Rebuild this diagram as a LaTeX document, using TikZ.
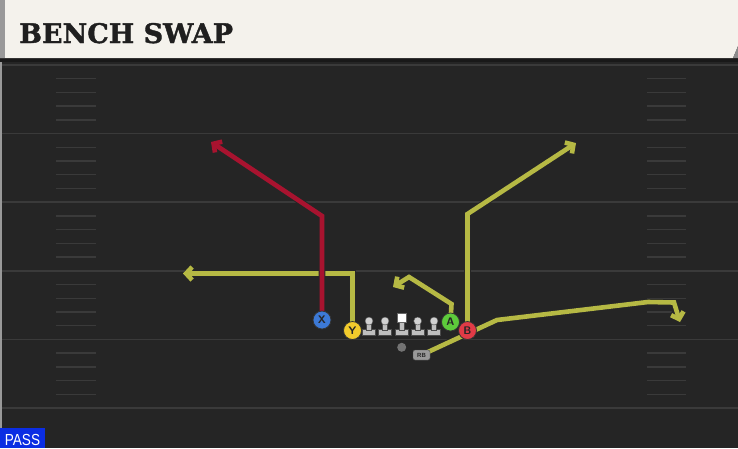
\documentclass[tikz,border=0pt]{standalone}
\usepackage{fontspec}
\usetikzlibrary{arrows.meta}
\newfontfamily\titlefont{DejaVu Serif}[BoldFeatures={FakeBold=1.4}]
\newfontfamily\tagfont{Liberation Sans}
\definecolor{turf}{HTML}{252525}
\definecolor{chalk}{HTML}{3A3A3A}
\definecolor{paper}{HTML}{F4F2EC}
\definecolor{redroute}{HTML}{A8132F}
\definecolor{yelroute}{HTML}{B6B944}
\definecolor{xblue}{HTML}{3C79D6}
\definecolor{yyellow}{HTML}{F2CB2C}
\definecolor{agreen}{HTML}{5DCB3B}
\definecolor{bred}{HTML}{E13B46}
\definecolor{passblue}{HTML}{0B2DE3}
\pgfdeclarelayer{field}
\pgfdeclarelayer{routes}
\pgfsetlayers{field,routes,main}
\tikzset{
  yardline/.style={draw=chalk, line width=1.6pt},
  hashmark/.style={draw=chalk, line width=1.4pt},
  route/.style={line width=4.6pt, line join=miter,
    preaction={draw=black!85, line width=6.6pt},
    -{Straight Barb[length=6pt,width=13pt]}},
  player/.style={circle, draw=black!80, line width=0.8pt, minimum size=18pt,
    inner sep=0pt, text=black!85, font=\sffamily\bfseries\fontsize{11}{11}\selectfont},
  tag/.style={rounded corners=2pt, fill=black!40, draw=black!70, line width=0.4pt,
    minimum width=17pt, minimum height=10pt, inner sep=0pt, text=black!85,
    font=\tagfont\bfseries\fontsize{6}{6}\selectfont},
  lineman/.style={fill=black!25, draw=black!70, line width=0.4pt}
}
\begin{document}
\begin{tikzpicture}[x=1pt,y=-1pt]
  \useasboundingbox (0,0) rectangle (738,448);
  % field
  \begin{pgfonlayer}{field}
  \fill[turf] (0,0) rectangle (738,448);
  \fill[black!40] (0,58) rectangle (2,448);
  \foreach \k in {0,...,5}
    \draw[yardline] (2,65+68.6*\k) -- (738,65+68.6*\k);
  \foreach \k in {0,...,4}
    \foreach \j in {1,...,4} {
      \draw[hashmark] (56,65+68.6*\k+13.72*\j) -- (96,65+68.6*\k+13.72*\j);
      \draw[hashmark] (647,65+68.6*\k+13.72*\j) -- (686,65+68.6*\k+13.72*\j);
    }
  \end{pgfonlayer}

  % header
  \fill[black!90] (0,58) rectangle (738,62);
  \fill[paper] (0,0) -- (738,0) -- (738,46) -- (733,58) -- (0,58) -- cycle;
  \fill[black!45] (733,58) -- (738,46) -- (738,58) -- cycle;
  \fill[black!40] (0,0) rectangle (5,58);
  \node[anchor=base west, inner sep=0pt, text=black!88,
    font=\titlefont\bfseries\fontsize{27}{27}\selectfont] (title) at (19,43) {BENCH SWAP};

  % players
  \node[player, fill=xblue] (X) at (322,320) {X};
  \node[player, fill=yyellow] (Y) at (352.5,330.5) {Y};
  \node[player, fill=agreen] (A) at (450.5,322) {A};
  \node[player, fill=bred] (B) at (467.5,330.5) {B};
  \node[circle, fill=black!55, minimum size=9pt, inner sep=0pt] (QB) at (401.7,347.3) {};
  \node[tag] (RB) at (421.5,355) {RB};

  % line
  \foreach \x/\n in {369/lt,385/lg,417.7/rg,434/rt} {
    \filldraw[lineman] (\x-6.5,329.5) rectangle (\x+6.5,335.5);
    \filldraw[lineman] (\x-2.5,322) rectangle (\x+2.5,330);
    \filldraw[lineman, fill=black!18] (\x,321) circle[radius=4];
    \coordinate (\n) at (\x,321);
  }
  \filldraw[lineman] (395.2,329.5) rectangle (408.2,335.5);
  \filldraw[lineman] (399.2,322) rectangle (404.2,330);
  \filldraw[fill=white, draw=black!60, line width=0.4pt] (397.2,313.5) rectangle (406.2,322.5);
  \coordinate (c) at (401.7,318);

  % route points
  \coordinate (xturn) at (322,216);
  \coordinate (xend) at (211,142);
  \coordinate (yturn) at (352.5,273.5);
  \coordinate (yend) at (183,273.5);
  \coordinate (aturn) at (451.5,304);
  \coordinate (apeak) at (409,277);
  \coordinate (aend) at (393,287);
  \coordinate (bturn) at (467.5,214);
  \coordinate (bend) at (576,143);
  \coordinate (rbbreak) at (497,320);
  \coordinate (rbflat) at (648,302);
  \coordinate (rbcorner) at (674,302.5);
  \coordinate (rbend) at (680,322);

  % routes
  \begin{pgfonlayer}{routes}
    \draw[route, yelroute] (Y.center) -- (yturn) -- (yend);
    \draw[route, redroute] (X.center) -- (xturn) -- (xend);
    \draw[route, yelroute] (A.center) -- (aturn) -- (apeak) -- (aend);
    \draw[route, yelroute] (B.center) -- (bturn) -- (bend);
    \draw[route, yelroute] (RB.center) -- (rbbreak) -- (rbflat) -- (rbcorner) -- (rbend);
  \end{pgfonlayer}

  % tag
  \fill[passblue] (0,428) rectangle (45,448);
  \node[text=white, inner sep=0pt, anchor=base,
    font=\tagfont\fontsize{16}{16}\selectfont] (pass) at (22.5,445) {\scalebox{0.85}[1]{PASS}};
\end{tikzpicture}
\end{document}
